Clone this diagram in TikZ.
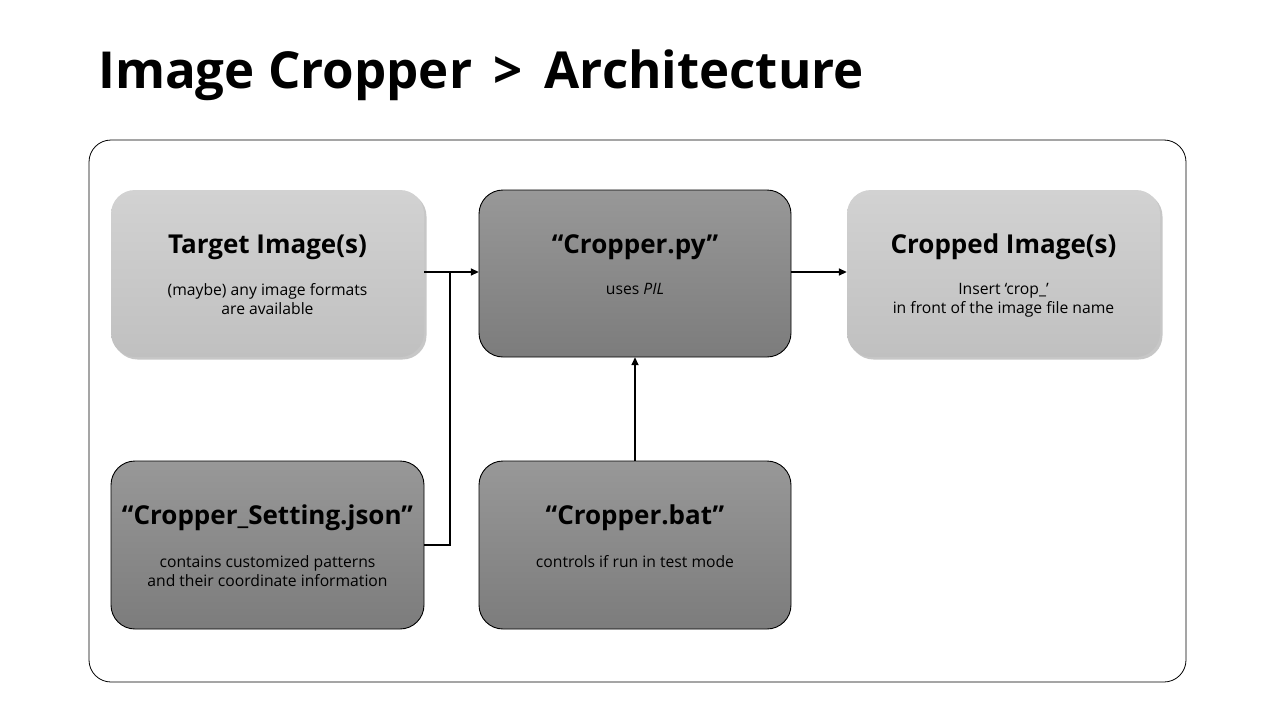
\documentclass[tikz,border=0pt]{standalone}
\usepackage{fontspec}
\setmainfont{Open Sans}
\usetikzlibrary{shadows,arrows.meta}
\definecolor{lighttop}{HTML}{D2D2D2}
\definecolor{lightbot}{HTML}{C0C0C0}
\definecolor{darktop}{HTML}{989898}
\definecolor{darkbot}{HTML}{7C7C7C}
\tikzset{
  x=1pt, y=-1pt,
  lightbox/.style={rounded corners=24pt, top color=lighttop, bottom color=lightbot,
    drop shadow={shadow xshift=2.5pt, shadow yshift=-2.5pt, opacity=0.4, fill=black!55}},
  darkbox/.style={rounded corners=24pt, top color=darktop, bottom color=darkbot, draw=black, line width=0.9pt},
  head/.style={font=\fontsize{26}{30}\selectfont\bfseries, inner sep=0pt},
  sub/.style={font=\fontsize{15.7}{19}\selectfont, align=center, inner sep=0pt},
  conn/.style={line width=1.6pt},
  arr/.style={conn, -{Triangle[length=8pt,width=7pt]}},
}
\begin{document}
\begin{tikzpicture}
\useasboundingbox (0,0) rectangle (1280,720);
\fill[white] (0,0) rectangle (1280,720);
\node[anchor=base west, inner sep=0pt, font=\fontsize{51}{60}\selectfont\bfseries] (title) at (98,88) {Image Cropper \,>\, Architecture};
\draw[rounded corners=22pt, line width=0.8pt] (89,140) rectangle (1186,682);
% boxes
\path[lightbox] (111,190) rectangle (424,357);
\path[darkbox] (479,190) rectangle (791,357);
\path[lightbox] (847,190) rectangle (1160,357);
\path[darkbox] (111,461) rectangle (424,629);
\path[darkbox] (479,461) rectangle (791,629);
\node[inner sep=0pt, minimum width=313pt, minimum height=167pt] (target) at (267.5,273.5) {};
\node[inner sep=0pt, minimum width=312pt, minimum height=167pt] (py) at (635,273.5) {};
\node[inner sep=0pt, minimum width=313pt, minimum height=167pt] (cropped) at (1003.5,273.5) {};
\node[inner sep=0pt, minimum width=313pt, minimum height=168pt] (json) at (267.5,545) {};
\node[inner sep=0pt, minimum width=312pt, minimum height=168pt] (bat) at (635,545) {};
% texts
\node[head] (t1) at (267.5,247) {Target Image(s)};
\node[sub, anchor=north] (s1) at (267.5,283) {(maybe) any image formats\\are available};
\node[head] (t2) at (635,247) {“Cropper.py”};
\node[sub, anchor=north] (s2) at (635,283) {uses \textit{PIL}};
\node[head] (t3) at (1003.5,247) {Cropped Image(s)};
\node[sub, anchor=north] (s3) at (1003.5,283) {Insert ‘crop\_’\\in front of the image file name};
\node[head] (t4) at (267.5,518) {“Cropper\_Setting.json”};
\node[sub, anchor=north] (s4) at (267.5,555) {contains customized patterns\\and their coordinate information};
\node[head] (t5) at (635,518) {“Cropper.bat”};
\node[sub, anchor=north] (s5) at (635,555) {controls if run in test mode};
% connectors
\coordinate (j) at (450,272);
\draw[arr] (target.east |- 0,272) -- (py.west |- 0,272);
\draw[conn] (json.east) -- (450,545) -- (j);
\draw[arr] (py.east |- 0,272) -- (cropped.west |- 0,272);
\draw[arr] (bat.north) -- (py.south);
\end{tikzpicture}
\end{document}
